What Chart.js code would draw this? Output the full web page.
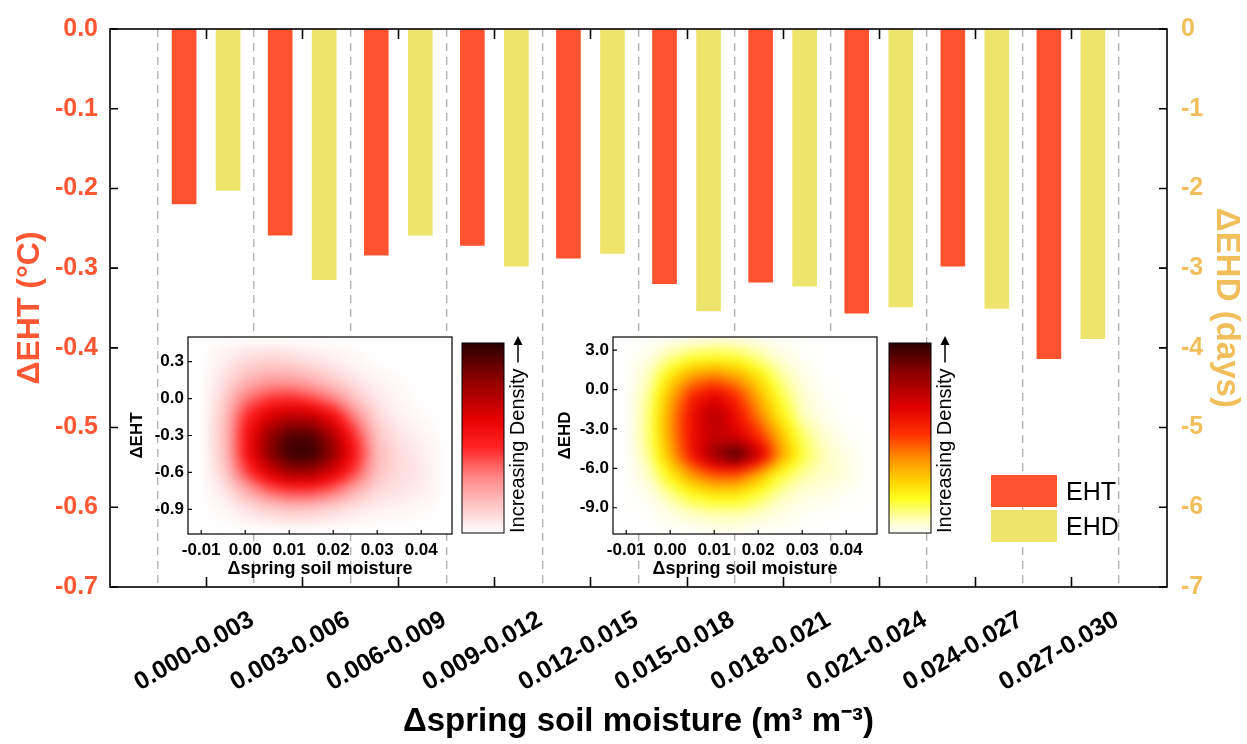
<!DOCTYPE html>
<html>
<head>
<meta charset="utf-8">
<title>EHT / EHD vs spring soil moisture</title>
<script src="https://cdn.jsdelivr.net/npm/chart.js@4.4.1/dist/chart.umd.min.js"></script>
<style>
  html, body { margin: 0; padding: 0; background: #fff; }
  #wrap { position: relative; width: 1247px; height: 744px; }
  #wrap canvas { position: absolute; }
</style>
</head>
<body>
<div id="wrap">
  <canvas id="main" width="1247" height="744" style="left:0;top:0"></canvas>
  <canvas id="insetEHT" width="420" height="270" style="left:120px;top:320px"></canvas>
  <canvas id="insetEHD" width="420" height="270" style="left:545px;top:320px"></canvas>
</div>
<script>
// --- Data ---
const CATEGORIES = ['0.000-0.003', '0.003-0.006', '0.006-0.009', '0.009-0.012', '0.012-0.015',
  '0.015-0.018', '0.018-0.021', '0.021-0.024', '0.024-0.027', '0.027-0.030'];
const EHT = [-0.220, -0.259, -0.284, -0.272, -0.288, -0.320, -0.318, -0.357, -0.298, -0.414];
const EHD = [-2.03, -3.15, -2.59, -2.98, -2.82, -3.54, -3.23, -3.49, -3.51, -3.89];
const EHT_TICKS = [0, -0.1, -0.2, -0.3, -0.4, -0.5, -0.6, -0.7];
const EHD_TICKS = [0, -1, -2, -3, -4, -5, -6, -7];

// inset density grids (rows top -> bottom, columns left -> right), 0 = none, 1 = densest
const DENSITY_X = [-0.010, -0.005, 0.000, 0.005, 0.010, 0.015, 0.020, 0.025, 0.030, 0.035, 0.040, 0.045];
const INSET_X_TICKS = [-0.01, 0.00, 0.01, 0.02, 0.03, 0.04];
const EHT_DENSITY_Y = [0.45, 0.30, 0.15, 0.00, -0.15, -0.30, -0.45, -0.60, -0.75, -0.90, -1.05];
const EHT_INSET_TICKS = [0.3, 0.0, -0.3, -0.6, -0.9];
const EHT_DENSITY = [
  [0, 0.01, 0.03, 0.04, 0.03, 0.02, 0.01, 0,    0,    0,    0,    0],
  [0, 0.05, 0.10, 0.12, 0.11, 0.08, 0.05, 0.02, 0,    0,    0,    0],
  [0, 0.08, 0.18, 0.24, 0.24, 0.20, 0.13, 0.07, 0.03, 0.01, 0,    0],
  [0, 0.12, 0.32, 0.42, 0.45, 0.40, 0.30, 0.15, 0.06, 0.02, 0,    0],
  [0, 0.15, 0.45, 0.62, 0.72, 0.70, 0.55, 0.30, 0.10, 0.04, 0.01, 0],
  [0, 0.16, 0.50, 0.78, 0.92, 0.92, 0.74, 0.44, 0.15, 0.07, 0.03, 0],
  [0, 0.15, 0.50, 0.80, 0.97, 0.98, 0.80, 0.50, 0.18, 0.09, 0.05, 0.01],
  [0, 0.12, 0.40, 0.62, 0.76, 0.76, 0.62, 0.40, 0.16, 0.09, 0.06, 0.01],
  [0, 0.06, 0.20, 0.35, 0.42, 0.42, 0.34, 0.20, 0.10, 0.07, 0.05, 0.01],
  [0, 0.02, 0.07, 0.12, 0.15, 0.14, 0.10, 0.06, 0.04, 0.03, 0.01, 0],
  [0, 0,    0.01, 0.02, 0.03, 0.03, 0.02, 0.01, 0,    0,    0,    0]
];
const EHD_DENSITY_Y = [4.0, 2.5, 1.0, -0.5, -2.0, -3.5, -5.0, -6.5, -8.0, -9.5, -11.0];
const EHD_INSET_TICKS = [3, 0, -3, -6, -9];
const EHD_DENSITY = [
  [0, 0,    0.01, 0.02, 0.03, 0.03, 0.02, 0,    0,    0,    0,    0],
  [0, 0.03, 0.10, 0.16, 0.18, 0.16, 0.10, 0.04, 0.01, 0,    0,    0],
  [0, 0.07, 0.24, 0.38, 0.42, 0.36, 0.24, 0.10, 0.03, 0,    0,    0],
  [0, 0.10, 0.34, 0.56, 0.66, 0.54, 0.34, 0.16, 0.05, 0.01, 0,    0],
  [0, 0.12, 0.38, 0.62, 0.76, 0.62, 0.42, 0.22, 0.07, 0.02, 0,    0],
  [0, 0.12, 0.38, 0.62, 0.72, 0.68, 0.54, 0.32, 0.13, 0.05, 0.01, 0],
  [0, 0.10, 0.34, 0.60, 0.82, 0.96, 0.72, 0.38, 0.16, 0.07, 0.03, 0],
  [0, 0.06, 0.22, 0.38, 0.48, 0.48, 0.34, 0.17, 0.09, 0.06, 0.04, 0],
  [0, 0.02, 0.10, 0.19, 0.23, 0.23, 0.16, 0.08, 0.04, 0.03, 0.01, 0],
  [0, 0,    0.03, 0.06, 0.08, 0.08, 0.06, 0.03, 0.01, 0,    0,    0],
  [0, 0,    0,    0,    0.01, 0.01, 0,    0,    0,    0,    0,    0]
];

// --- Styles ---
const FONT = "'Liberation Sans', Arial, sans-serif";
const RED = '#FF5330';
const YELLOW = '#EDE46C';
const LEFT_COLOR = '#FF5733';
const RIGHT_COLOR = '#F0BF5C';
const RED_STOPS = [[0, '#ffffff'], [0.04, '#fff0f0'], [0.15, '#ffc4c4'], [0.3, '#ff8484'],
  [0.45, '#ff2424'], [0.6, '#e60000'], [0.8, '#900000'], [1, '#2a0000']];
const HEAT_STOPS = [[0, '#ffffff'], [0.06, '#ffffc8'], [0.18, '#ffff20'], [0.28, '#ffd000'],
  [0.4, '#ff8a00'], [0.52, '#ff3000'], [0.66, '#e00000'], [0.85, '#8a0000'], [1, '#2a0000']];

// --- Helpers ---
function hexRgb(h) {
  return [parseInt(h.slice(1, 3), 16), parseInt(h.slice(3, 5), 16), parseInt(h.slice(5, 7), 16)];
}

function colorAt(stops, v) {
  v = Math.max(0, Math.min(1, v));
  for (let i = 1; i < stops.length; i++) {
    if (v <= stops[i][0]) {
      const a = hexRgb(stops[i - 1][1]), b = hexRgb(stops[i][1]);
      const t = (v - stops[i - 1][0]) / (stops[i][0] - stops[i - 1][0]);
      return [0, 1, 2].map(k => Math.round(a[k] + (b[k] - a[k]) * t));
    }
  }
  return hexRgb(stops[stops.length - 1][1]);
}

// smooth the coarse grid into an image, colour it with the map
function densityImage(grid, stops, f) {
  const rows = grid.length, cols = grid[0].length;
  const w = (cols - 1) * f + 1, h = (rows - 1) * f + 1;
  const c = document.createElement('canvas');
  c.width = w; c.height = h;
  const g = c.getContext('2d');
  const img = g.createImageData(w, h);
  for (let py = 0; py < h; py++) {
    const fy = py / f, r0 = Math.min(Math.floor(fy), rows - 2), ty = fy - r0;
    for (let px = 0; px < w; px++) {
      const fx = px / f, c0 = Math.min(Math.floor(fx), cols - 2), tx = fx - c0;
      const v = (grid[r0][c0] * (1 - tx) + grid[r0][c0 + 1] * tx) * (1 - ty) +
                (grid[r0 + 1][c0] * (1 - tx) + grid[r0 + 1][c0 + 1] * tx) * ty;
      const col = colorAt(stops, v);
      const k = (py * w + px) * 4;
      img.data[k] = col[0]; img.data[k + 1] = col[1]; img.data[k + 2] = col[2]; img.data[k + 3] = 255;
    }
  }
  g.putImageData(img, 0, 0);
  return c;
}

// --- Main chart plugins ---
const framePlugin = {
  id: 'frame',
  afterDraw(chart) {
    const { ctx, chartArea: a, scales } = chart;
    ctx.save();
    ctx.strokeStyle = '#000';
    ctx.lineWidth = 1.6;
    ctx.strokeRect(a.left, a.top, a.right - a.left, a.bottom - a.top);
    ctx.beginPath();
    CATEGORIES.forEach((c, i) => {
      const px = Math.round(scales.x.getPixelForValue(i + 1)) + 0.5;
      ctx.moveTo(px, a.bottom); ctx.lineTo(px, a.bottom - 10);
      ctx.moveTo(px, a.top); ctx.lineTo(px, a.top + 10);
    });
    EHT_TICKS.forEach(v => {
      const py = scales.y.getPixelForValue(v);
      ctx.moveTo(a.left, py); ctx.lineTo(a.left + 8, py);
    });
    EHD_TICKS.forEach(v => {
      const py = scales.y1.getPixelForValue(v);
      ctx.moveTo(a.right, py); ctx.lineTo(a.right - 8, py);
    });
    ctx.stroke();
    ctx.restore();
  }
};

const legendPlugin = {
  id: 'legendBox',
  afterDraw(chart) {
    const { ctx, chartArea: a } = chart;
    ctx.save();
    chart.data.datasets.forEach((ds, i) => {
      const x = a.right - 176, y = a.bottom - 112 + i * 35;
      ctx.fillStyle = ds.backgroundColor;
      ctx.fillRect(x, y, 66, 32);
      ctx.fillStyle = '#000';
      ctx.font = '25px ' + FONT;
      ctx.textBaseline = 'middle';
      ctx.fillText(ds.label, x + 75, y + 18);
    });
    ctx.restore();
  }
};

// --- Main chart ---
const padded = arr => [null, ...arr, null];

new Chart(document.getElementById('main'), {
  type: 'bar',
  data: {
    labels: ['', ...CATEGORIES, ''],
    datasets: [
      { label: 'EHT', data: padded(EHT), backgroundColor: RED, yAxisID: 'y',
        categoryPercentage: 0.916, barPercentage: 0.56 },
      { label: 'EHD', data: padded(EHD), backgroundColor: YELLOW, yAxisID: 'y1',
        categoryPercentage: 0.916, barPercentage: 0.56 }
    ]
  },
  options: {
    responsive: false,
    animation: false,
    devicePixelRatio: 1,
    layout: { padding: { top: 22 } },
    plugins: { legend: { display: false }, tooltip: { enabled: false } },
    scales: {
      x: {
        type: 'category',
        offset: false,
        grid: { offset: true, drawTicks: false, color: '#b3b3b3', lineWidth: 1.4 },
        border: { display: false, dash: [8, 6] },
        ticks: {
          autoSkip: false, minRotation: 30, maxRotation: 30,
          labelOffset: 46, padding: 18,
          color: '#000', font: { family: FONT, size: 25, weight: 'bold' }
        },
        title: {
          display: true, text: 'Δspring soil moisture (m³ m⁻³)', color: '#000',
          font: { family: FONT, size: 33, weight: 'bold' }, padding: { top: 0, bottom: 2 }
        },
        afterFit: s => { s.height = 157; }
      },
      y: {
        position: 'left',
        min: -0.7, max: 0,
        afterBuildTicks: s => { s.ticks = EHT_TICKS.map(v => ({ value: v })); },
        ticks: {
          callback: v => v.toFixed(1), padding: 12, color: LEFT_COLOR,
          font: { family: FONT, size: 25, weight: 'bold' }
        },
        grid: { display: false, drawTicks: false },
        border: { display: false },
        title: {
          display: true, text: 'ΔEHT (°C)', color: LEFT_COLOR,
          font: { family: FONT, size: 32, weight: 'bold' }, padding: { top: 11, bottom: 0 }
        },
        afterFit: s => { s.width = 110; }
      },
      y1: {
        position: 'right',
        min: -7, max: 0,
        afterBuildTicks: s => { s.ticks = EHD_TICKS.map(v => ({ value: v })); },
        ticks: {
          callback: v => String(v), padding: 14, color: RIGHT_COLOR,
          font: { family: FONT, size: 25, weight: 'bold' }
        },
        grid: { display: false, drawTicks: false },
        border: { display: false },
        title: {
          display: true, text: 'ΔEHD (days)', color: RIGHT_COLOR,
          font: { family: FONT, size: 33, weight: 'bold' }, padding: { top: 1, bottom: 0 }
        },
        afterFit: s => { s.width = 80; }
      }
    }
  },
  plugins: [framePlugin, legendPlugin]
});

// --- Inset density plots ---
const densityPlugin = {
  id: 'density',
  beforeDatasetsDraw(chart, args, opts) {
    const { ctx, chartArea: a, scales: { x, y } } = chart;
    const ys = opts.ys;
    const img = densityImage(opts.grid, opts.stops, 10);
    const left = x.getPixelForValue(DENSITY_X[0]);
    const right = x.getPixelForValue(DENSITY_X[DENSITY_X.length - 1]);
    const top = y.getPixelForValue(ys[0]);
    const bottom = y.getPixelForValue(ys[ys.length - 1]);
    ctx.save();
    ctx.fillStyle = '#fff';
    ctx.fillRect(a.left, a.top, a.right - a.left, a.bottom - a.top);
    ctx.beginPath();
    ctx.rect(a.left, a.top, a.right - a.left, a.bottom - a.top);
    ctx.clip();
    ctx.imageSmoothingEnabled = true;
    ctx.filter = 'blur(5px)';
    ctx.drawImage(img, left, top, right - left, bottom - top);
    ctx.restore();
  },
  afterDraw(chart, args, opts) {
    const { ctx, chartArea: a, scales: { x, y } } = chart;
    ctx.save();
    ctx.strokeStyle = '#000';
    ctx.lineWidth = 1.2;
    ctx.strokeRect(a.left, a.top, a.right - a.left, a.bottom - a.top);
    ctx.beginPath();
    x.ticks.forEach(t => {
      const px = x.getPixelForValue(t.value);
      ctx.moveTo(px, a.bottom); ctx.lineTo(px, a.bottom - 4);
    });
    y.ticks.forEach(t => {
      const py = y.getPixelForValue(t.value);
      ctx.moveTo(a.left, py); ctx.lineTo(a.left + 4, py);
    });
    ctx.stroke();

    // colour bar
    const cbL = a.right + opts.gap, cbR = cbL + 42, cbT = a.top + 6, cbB = a.bottom - 1;
    const g = ctx.createLinearGradient(0, cbB, 0, cbT);
    opts.stops.forEach(([t, c]) => g.addColorStop(t, c));
    ctx.fillStyle = g;
    ctx.fillRect(cbL, cbT, cbR - cbL, cbB - cbT);
    ctx.lineWidth = 1;
    ctx.strokeRect(cbL, cbT, cbR - cbL, cbB - cbT);

    // "Increasing Density" with arrow
    ctx.translate(cbR + 14, cbB);
    ctx.rotate(-Math.PI / 2);
    ctx.fillStyle = '#000';
    ctx.font = '20px ' + FONT;
    ctx.textAlign = 'left';
    ctx.textBaseline = 'middle';
    ctx.fillText('Increasing Density', 0, 0);
    const w = ctx.measureText('Increasing Density').width;
    const tip = cbB - a.top + 1;
    ctx.lineWidth = 1.5;
    ctx.beginPath();
    ctx.moveTo(w + 6, 0); ctx.lineTo(tip - 6, 0);
    ctx.stroke();
    ctx.beginPath();
    ctx.moveTo(tip, 0); ctx.lineTo(tip - 9, -4.5); ctx.lineTo(tip - 9, 4.5); ctx.closePath();
    ctx.fill();
    ctx.restore();
  }
};

function insetChart(id, yTitle, yMin, yMax, yTicks, ys, grid, stops, gap, titlePad) {
  return new Chart(document.getElementById(id), {
    type: 'scatter',
    data: { datasets: [] },
    options: {
      responsive: false,
      animation: false,
      devicePixelRatio: 1,
      layout: { padding: { top: 17, right: 88 } },
      plugins: {
        legend: { display: false },
        tooltip: { enabled: false },
        density: { grid, ys, stops, gap }
      },
      scales: {
        x: {
          type: 'linear', min: -0.013, max: 0.047,
          afterBuildTicks: s => { s.ticks = INSET_X_TICKS.map(v => ({ value: v })); },
          ticks: {
            callback: v => v.toFixed(2), autoSkip: false, maxRotation: 0, padding: 6,
            color: '#000', font: { family: FONT, size: 17, weight: 'bold' }
          },
          grid: { display: false, drawTicks: false },
          border: { display: false },
          title: {
            display: true, text: 'Δspring soil moisture', color: '#000',
            font: { family: FONT, size: 18, weight: 'bold' }, padding: { top: 0, bottom: 10 }
          },
          afterFit: s => { s.height = 56; }
        },
        y: {
          type: 'linear', min: yMin, max: yMax,
          afterBuildTicks: s => { s.ticks = yTicks.map(v => ({ value: v })); },
          ticks: {
            callback: v => v.toFixed(1), autoSkip: false, padding: 4,
            color: '#000', font: { family: FONT, size: 17, weight: 'bold' }
          },
          grid: { display: false, drawTicks: false },
          border: { display: false },
          title: {
            display: true, text: yTitle, color: '#000',
            font: { family: FONT, size: 17, weight: 'bold' }, padding: { top: titlePad, bottom: 0 }
          },
          afterFit: s => { s.width = 68; }
        }
      }
    },
    plugins: [densityPlugin]
  });
}

insetChart('insetEHT', 'ΔEHT', -1.1, 0.5, EHT_INSET_TICKS, EHT_DENSITY_Y, EHT_DENSITY, RED_STOPS, 10, 7);
insetChart('insetEHD', 'ΔEHD', -11, 4, EHD_INSET_TICKS, EHD_DENSITY_Y, EHD_DENSITY, HEAT_STOPS, 12, 10);
</script>
</body>
</html>
